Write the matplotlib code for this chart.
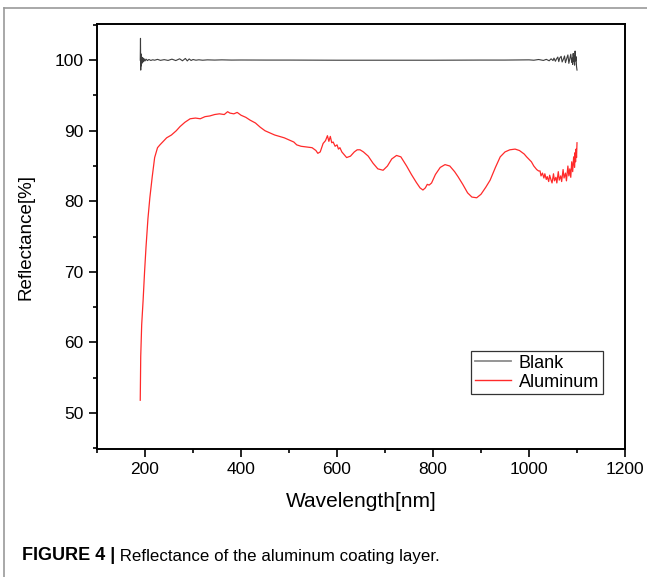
import matplotlib
matplotlib.use('Agg')
import matplotlib.pyplot as plt
from matplotlib.lines import Line2D
from matplotlib.ticker import MultipleLocator

plt.rcParams['font.family'] = ['Liberation Sans', 'DejaVu Sans']

# Blank (reference) spectrum, noisy near both ends
blank_wl = [190, 190.5, 191, 191.5, 192, 192.5, 193, 194, 195, 196, 197, 198, 200, 202,
            205, 208, 212, 216, 220, 226, 232, 240, 248, 256, 264, 272, 278, 284, 288,
            292, 296, 300, 306, 312, 320, 330, 345, 360, 380, 400, 450, 500, 600, 700,
            800, 900, 950, 1000, 1010, 1020, 1030, 1036, 1042, 1046, 1050, 1052, 1055,
            1057, 1060, 1062, 1064, 1067, 1069, 1072, 1074, 1076, 1079, 1081, 1083, 1085,
            1087, 1089, 1090, 1091, 1092, 1093, 1094, 1095, 1096, 1097, 1098, 1099, 1100]
blank_r = [100.0, 103.1, 98.6, 100.9, 99.2, 100.6, 99.5, 100.4, 99.7, 100.3, 99.8, 100.2,
           99.9, 100.15, 99.95, 100.1, 99.97, 100.06, 100.0, 100.12, 99.98, 100.08, 99.97,
           100.15, 99.95, 100.2, 99.92, 100.25, 99.9, 100.18, 99.96, 100.1, 100.0, 100.06,
           100.0, 100.05, 100.02, 100.05, 100.02, 100.03, 100.02, 100.02, 100.0, 100.0,
           100.0, 100.02, 100.02, 100.05, 100.0, 100.1, 99.97, 100.12, 99.92, 100.2, 99.95,
           100.3, 99.85, 100.15, 100.45, 99.8, 100.3, 100.55, 99.75, 100.2, 100.6, 99.65,
           100.35, 100.75, 99.55, 100.2, 100.85, 99.7, 100.3, 99.4, 100.95, 99.8, 100.6,
           99.3, 101.3, 99.9, 100.5, 99.1, 98.6]

# Aluminum-coated sample
al_wl = [190, 191, 193, 196, 199, 202, 206, 210, 215, 220, 226, 231, 238, 245, 255, 265,
         273, 283, 294, 305, 315, 325, 335, 345, 355, 365, 372, 377, 385, 392, 400, 410,
         419, 430, 440, 450, 460, 470, 480, 490, 500, 510, 516, 525, 537, 548, 556, 560,
         565, 571, 576, 580, 583, 586, 589, 592, 596, 600, 603, 606, 610, 620, 628, 636,
         642, 648, 655, 665, 675, 685, 696, 705, 714, 724, 733, 745, 755, 765, 773, 779,
         784, 788, 792, 797, 805, 815, 825, 835, 845, 852, 862, 872, 881, 891, 900, 910,
         919, 930, 940, 950, 960, 971, 980, 990, 995, 1005, 1010, 1016, 1020, 1023, 1025,
         1028, 1031, 1033, 1036, 1038, 1041, 1043, 1046, 1048, 1051, 1053, 1056, 1058,
         1061, 1063, 1066, 1068, 1071, 1073, 1076, 1078, 1081, 1083, 1085, 1087, 1089,
         1091, 1093, 1095, 1096, 1097, 1098, 1099, 1100]
al_r = [51.8, 58.0, 62.5, 66.0, 70.0, 73.5, 77.5, 80.5, 83.5, 86.2, 87.6, 88.0, 88.5,
        89.0, 89.4, 90.0, 90.6, 91.2, 91.7, 91.8, 91.7, 92.0, 92.1, 92.3, 92.4, 92.3,
        92.7, 92.5, 92.4, 92.6, 92.2, 91.9, 91.5, 91.1, 90.5, 90.0, 89.7, 89.4, 89.2,
        89.0, 88.7, 88.4, 88.0, 87.8, 87.7, 87.6, 87.2, 86.8, 87.0, 88.2, 88.6, 89.3,
        88.5, 89.2, 88.3, 88.4, 87.8, 88.0, 87.4, 87.6, 87.0, 86.2, 86.4, 87.0, 87.3,
        87.3, 87.0, 86.4, 85.4, 84.6, 84.4, 85.0, 86.0, 86.5, 86.3, 85.0, 83.8, 82.7,
        81.9, 81.6, 81.9, 82.4, 82.3, 82.6, 83.8, 84.8, 85.2, 85.0, 84.2, 83.5, 82.4,
        81.2, 80.6, 80.5, 81.0, 82.0, 83.0, 84.8, 86.3, 87.0, 87.3, 87.4, 87.2, 86.7,
        86.3, 85.6, 85.0, 84.5, 84.3, 84.3, 83.6, 84.0, 83.3, 83.9, 83.1, 83.5,
        82.8, 83.7, 83.0, 82.6, 83.9, 82.9, 83.4, 82.6, 84.2, 83.0, 83.6, 82.8, 84.5,
        83.3, 84.0, 82.9, 85.0, 83.6, 84.6, 83.4, 85.6, 84.2, 86.3, 84.8, 86.9, 85.6,
        87.4, 86.2, 88.3]

xticks = [200, 400, 600, 800, 1000, 1200]
yticks = [50, 60, 70, 80, 90, 100]

fig = plt.figure(figsize=(6.47, 5.77), dpi=100)
ax = fig.add_axes([0.150, 0.222, 0.816, 0.736])

ax.plot(blank_wl, blank_r, color='#3c3c3c', lw=0.8, label='Blank')
ax.plot(al_wl, al_r, color='#ff2a2a', lw=0.9, label='Aluminum')

ax.set_xlim(100, 1200)
ax.set_ylim(44.9, 105.1)
ax.set_xticks(xticks)
ax.set_yticks(yticks)
ax.xaxis.set_minor_locator(MultipleLocator(100))
ax.yaxis.set_minor_locator(MultipleLocator(5))
ax.tick_params(which='major', direction='out', length=5.5, width=1.2, labelsize=12.5, pad=4)
ax.tick_params(which='minor', direction='out', length=3, width=1.2)
ax.tick_params(top=False, right=False)
for s in ax.spines.values():
    s.set_linewidth(1.4)

ax.set_xlabel('Wavelength[nm]', fontsize=15, labelpad=11)
ax.set_ylabel('Reflectance[%]', fontsize=13.5, labelpad=15)

leg = ax.legend(loc='lower right', bbox_to_anchor=(0.958, 0.129), fontsize=13,
                frameon=True, fancybox=False, edgecolor='black', handlelength=2.0,
                handletextpad=0.45, borderpad=0.2, labelspacing=0.1, borderaxespad=0)
leg.get_frame().set_linewidth(0.9)
leg.get_lines()[0].set_color('#8c8c8c')
leg.get_lines()[0].set_linewidth(1.3)
leg.get_lines()[1].set_linewidth(1.0)

# outer frame of the figure panel
fig.add_artist(Line2D([0.006, 1.0], [0.986, 0.986], color='#9a9a9a', lw=1.2))
fig.add_artist(Line2D([0.006, 0.006], [0.0, 0.986], color='#9a9a9a', lw=1.2))

cap1 = fig.text(0.034, 0.030, 'FIGURE 4 |', fontsize=13, fontweight='bold',
                va='baseline')
ax.annotate(' Reflectance of the aluminum coating layer.', xy=(1, 0), xycoords=cap1,
            fontsize=12.2, va='bottom', ha='left', annotation_clip=False)

fig.savefig('out.png', dpi=100)
